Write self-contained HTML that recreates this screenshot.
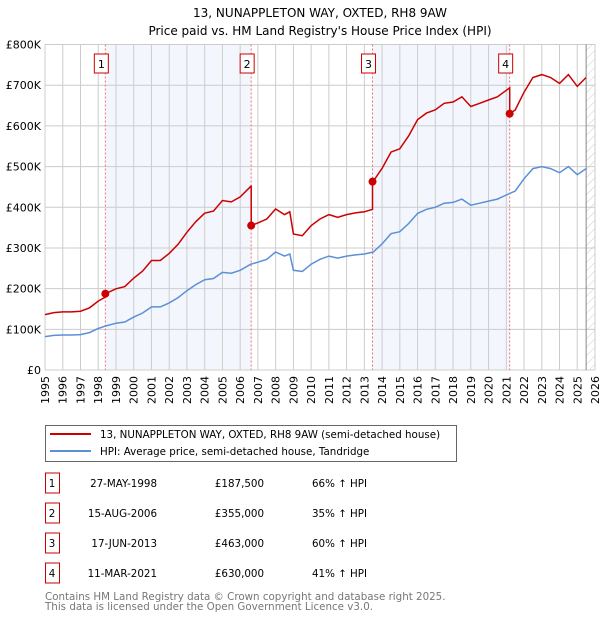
<!DOCTYPE html>
<html><head><meta charset="utf-8"><style>
body{margin:0;background:#fff;font-family:"DejaVu Sans","Liberation Sans",sans-serif;}
svg text{font-family:"DejaVu Sans","Liberation Sans",sans-serif;}
</style></head><body>
<svg id="chart" width="600" height="620" xmlns="http://www.w3.org/2000/svg">
<defs><pattern id="hatch" width="6" height="6" patternUnits="userSpaceOnUse" patternTransform="rotate(45)"><line x1="0" y1="0" x2="0" y2="6" stroke="#ccc" stroke-width="1"/></pattern></defs>
<text x="320" y="17" text-anchor="middle" font-size="12">13, NUNAPPLETON WAY, OXTED, RH8 9AW</text>
<text x="320" y="35" text-anchor="middle" font-size="12">Price paid vs. HM Land Registry's House Price Index (HPI)</text>
<g id="plot"></g>
<g>
<rect x="45.5" y="425.5" width="411" height="36" fill="#fff" stroke="#666"/>
<line x1="50" y1="434" x2="91" y2="434" stroke="#cc0000" stroke-width="2"/>
<text x="100" y="438" font-size="10.3">13, NUNAPPLETON WAY, OXTED, RH8 9AW (semi-detached house)</text>
<line x1="50" y1="451" x2="91" y2="451" stroke="#5b8fd6" stroke-width="2"/>
<text x="100" y="455" font-size="10.3">HPI: Average price, semi-detached house, Tandridge</text>
</g>
<g id="table"></g>
<text x="45" y="600" font-size="10.3" fill="#777">Contains HM Land Registry data © Crown copyright and database right 2025.</text>
<text x="45" y="610" font-size="10.3" fill="#777">This data is licensed under the Open Government Licence v3.0.</text>
</svg>
<script>
const hpiYears=[1995,1995.5,1996,1996.5,1997,1997.5,1998,1998.4,1999,1999.5,2000,2000.5,2001,2001.5,2002,2002.5,2003,2003.5,2004,2004.5,2005,2005.5,2006,2006.6,2007,2007.5,2008,2008.5,2008.8,2009,2009.5,2010,2010.5,2011,2011.5,2012,2012.5,2013,2013.5,2014,2014.5,2015,2015.5,2016,2016.5,2017,2017.5,2018,2018.5,2019,2019.5,2020,2020.5,2021,2021.5,2022,2022.5,2023,2023.5,2024,2024.5,2025,2025.5];
const hpiValues=[82,85,86,86,87,92,102,108,115,118,130,140,155,155,165,178,195,210,222,225,240,238,245,260,265,272,290,280,285,245,242,260,272,280,275,280,283,285,290,310,335,340,360,385,395,400,410,412,420,405,410,415,420,430,440,470,495,500,495,485,500,480,495];
const saleLabels=["1","2","3","4"];
const saleDates=["27-MAY-1998","15-AUG-2006","17-JUN-2013","11-MAR-2021"];
const saleYears=[1998.4,2006.62,2013.46,2021.19];
const salePrices=[187500,355000,463000,630000];
const salePriceText=["£187,500","£355,000","£463,000","£630,000"];
const saleHpiText=["66% ↑ HPI","35% ↑ HPI","60% ↑ HPI","41% ↑ HPI"];
const redFactors=[1.66,1.36,1.6,1.43];
const yTicks=[0,100,200,300,400,500,600,700,800];
const yTickLabels=["£0","£100K","£200K","£300K","£400K","£500K","£600K","£700K","£800K"];

const NS="http://www.w3.org/2000/svg";
const X0=45,X1=595,Y0=370,Y1=44.5;
const xs=y=>X0+(y-1995)/(2026-1995)*(X1-X0);
const ys=v=>Y0-v/800*(Y0-Y1);
const plot=document.getElementById('plot');
function mk(tag,attrs,parent){const e=document.createElementNS(NS,tag);for(const k in attrs)e.setAttribute(k,attrs[k]);(parent||plot).appendChild(e);return e;}
function hpiAt(t){for(let i=0;i<hpiYears.length-1;i++){if(t<=hpiYears[i+1]){const f=(t-hpiYears[i])/(hpiYears[i+1]-hpiYears[i]);return hpiValues[i]+f*(hpiValues[i+1]-hpiValues[i]);}}return hpiValues[hpiValues.length-1];}

let bg=mk('rect',{x:X0,y:Y1,width:X1-X0,height:Y0-Y1,fill:'#fff'});


for(let i=0;i<saleYears.length;i+=2){
 const b=mk('rect',{x:xs(saleYears[i]),y:Y1,width:xs(saleYears[i+1])-xs(saleYears[i]),height:Y0-Y1,fill:'#eef3fc',opacity:0.7});
 
 
}
const hx=xs(2025.5);
const h=mk('rect',{x:hx,y:Y1,width:X1-hx,height:Y0-Y1,fill:'url(#hatch)'});


for(let yr=1995;yr<=2026;yr++){
 const g=mk('line',{x1:xs(yr),x2:xs(yr),y1:Y1,y2:Y0,stroke:'#ccc','stroke-width':1});
 
 
 const t=mk('text',{x:0,y:0,'font-size':11,'text-anchor':'end',transform:`translate(${xs(yr)+4},${Y0+6}) rotate(-90)`});
 t.textContent=yr;
 
 
}
yTicks.forEach((v,i)=>{
 const g=mk('line',{x1:X0,x2:X1,y1:ys(v),y2:ys(v),stroke:'#ccc','stroke-width':1});
 
 
 const t=mk('text',{x:X0-4,y:ys(v)+4,'font-size':11,'text-anchor':'end'});
 t.textContent=yTickLabels[i];
 
 
});
const vl=mk('line',{x1:hx,x2:hx,y1:Y1,y2:Y0,stroke:'#888','stroke-width':1});


saleYears.forEach((s,i)=>{
 const l=mk('line',{x1:xs(s),x2:xs(s),y1:Y1,y2:Y0,stroke:'#f07070','stroke-width':1,'stroke-dasharray':'2,2'});
 
 
 const bx=xs(s)-4;
 const r=mk('rect',{x:bx-7,y:54,width:14,height:19,fill:'#fff',stroke:'#cc0000'});
 
 
 const t=mk('text',{x:bx,y:68,'font-size':11,'text-anchor':'middle'});
 t.textContent=saleLabels[i];
 
 
});
let d='';
hpiYears.forEach((y,i)=>{d+=(i?'L':'M')+xs(y).toFixed(1)+','+ys(hpiValues[i]).toFixed(1);});
const hp=mk('path',{d:d,fill:'none',stroke:'#5b8fd6','stroke-width':1.5});


let pts=[];
const segs=[1995].concat(saleYears).concat([2025.5]);
for(let k=0;k<segs.length-1;k++){
 const a=segs[k],b=segs[k+1];
 const f=k===0?redFactors[0]:(salePrices[k-1]/1000)/hpiAt(a);
 const inner=hpiYears.filter(y=>y>a&&y<b);
 [a].concat(inner).concat([b]).forEach(y=>pts.push([y,hpiAt(y)*f]));
}
let d2='';
pts.forEach((p,i)=>{d2+=(i?'L':'M')+xs(p[0]).toFixed(1)+','+ys(p[1]).toFixed(1);});
const rp=mk('path',{d:d2,fill:'none',stroke:'#cc0000','stroke-width':1.5});


saleYears.forEach((s,i)=>{
 const c=mk('circle',{cx:xs(s),cy:ys(salePrices[i]/1000),r:4,fill:'#cc0000'});
 
 
});
const tb=document.getElementById('table');
saleLabels.forEach((l,i)=>{
 const y=483+i*30;
 const r=mk('rect',{x:45.5,y:y-10,width:14,height:20,fill:'#fff',stroke:'#cc0000'},tb);
 
 
 const cells=[[52,'middle',l,'sale-row-number'],[157,'end',saleDates[i],'sale-date'],[264,'end',salePriceText[i],'sale-price'],[312,'start',saleHpiText[i],'sale-hpi-change']];
 cells.forEach(c=>{
  const t=mk('text',{x:c[0],y:y+4,'font-size':10.3,'text-anchor':c[1]},tb);
  t.textContent=c[2];
  
  
 });
});
</script>
</body></html>
